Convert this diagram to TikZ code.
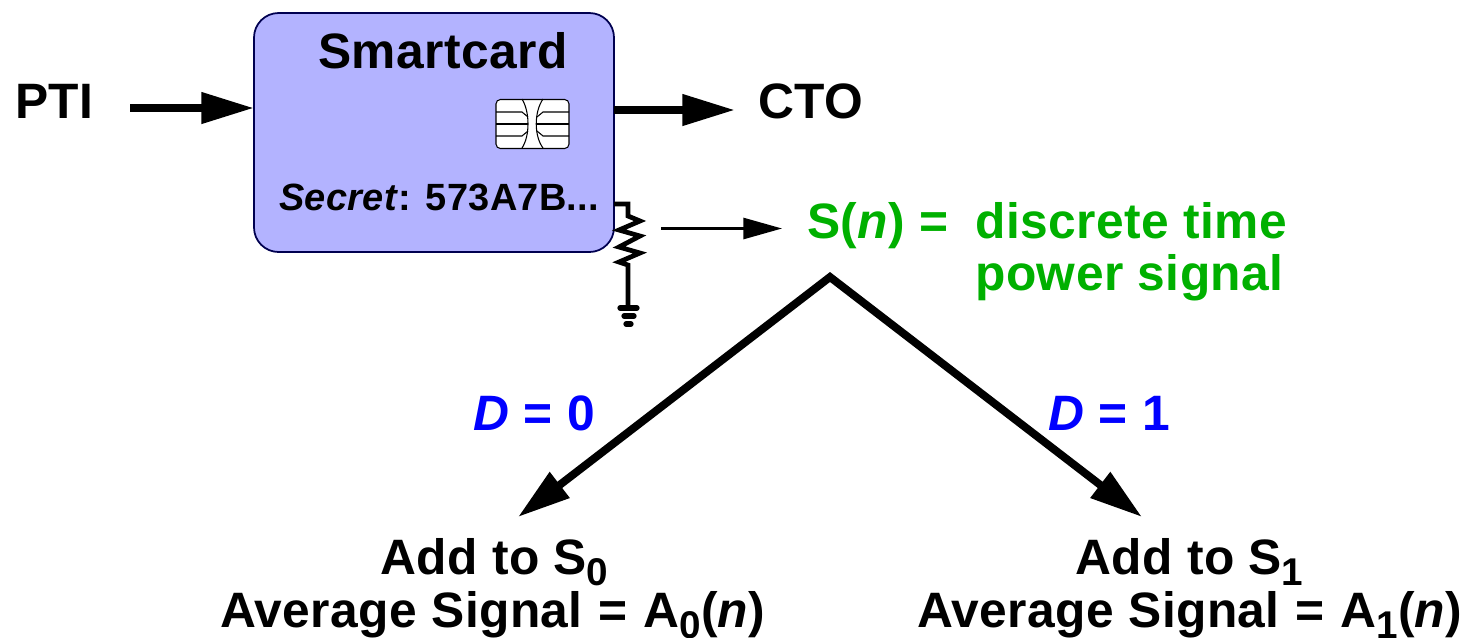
\documentclass[tikz,border=0pt]{standalone}
\usepackage{fontspec}
\setmainfont{Liberation Sans}[LetterSpace=0.85]
\usepackage{tikz}
\usetikzlibrary{arrows.meta}
\definecolor{cardfill}{HTML}{B3B3FF}
\definecolor{cardline}{HTML}{000050}
\definecolor{signalgreen}{HTML}{00B000}
\definecolor{bitblue}{HTML}{0000FF}
\newcommand{\lowidx}[1]{\raisebox{-6.8pt}{\fontsize{22}{22}\selectfont #1}}
\tikzset{
	bigtext/.style={anchor=base west, inner sep=0pt, font=\fontsize{28.3}{34}\bfseries},
	midtext/.style={anchor=base west, inner sep=0pt, font=\fontsize{21.6}{24}\bfseries},
	fatarrow/.style={line width=4.5pt, -{Triangle[length=30pt, width=17pt]}},
	thinarrow/.style={line width=1.4pt, -{Triangle[length=22pt, width=12pt]}},
	branch/.style={line width=4.5pt, {Triangle[length=30pt, width=17.5pt]}-{Triangle[length=30pt, width=17.5pt]}},
	chipline/.style={line width=0.6pt},
	wire/.style={line width=2.7pt},
	earthbar/.style={line width=3pt, line cap=round}
}
\begin{document}
\begin{tikzpicture}[x=0.02cm, y=-0.02cm]
	\useasboundingbox (0,0) rectangle (1467,637);

	% Tarjeta
	\node[draw=cardline, fill=cardfill, line width=1pt, rounded corners=14pt, minimum width=360*0.02cm, minimum height=239*0.02cm, inner sep=0pt] (Card) at (434,132.5) {};
	\node[bigtext] (Title) at (318,68) {Smartcard};
	\node[midtext] (Secret) at (279,210) {\textit{Secret}: 573A7B...};

	% Chip
	\node[draw=black, fill=white, line width=0.6pt, rounded corners=2.5pt, minimum width=73*0.02cm, minimum height=49*0.02cm, inner sep=0pt] (Chip) at (532.5,124) {};
	\draw[chipline] (522,99) .. controls (530,112) and (530,136) .. (522,148);
	\draw[chipline] (543,99) .. controls (534,112) and (534,136) .. (543,148);
	\draw[chipline] (496,112) -- (522,112) -- (528,117);
	\draw[chipline] (496,124) -- (528,124);
	\draw[chipline] (496,136) -- (522,136) -- (528,131);
	\draw[chipline] (569,112) -- (543,112) -- (537,117);
	\draw[chipline] (569,124) -- (536,124);
	\draw[chipline] (569,136) -- (543,136) -- (537,131);

	% Entrada y salida
	\node[bigtext] (PTI) at (15,118) {PTI};
	\node[bigtext] (CTO) at (758,118) {CTO};
	\coordinate (InStart) at (130,108);
	\coordinate (InEnd) at (254,108);
	\coordinate (OutStart) at (614,110);
	\coordinate (OutEnd) at (735,110);
	\draw[fatarrow] (InStart) to (InEnd);
	\draw[fatarrow] (OutStart) to (OutEnd);

	% Resistencia
	\coordinate (Tap) at (614,204);
	\coordinate (Earth) at (628,308);
	\draw[wire] (Tap) -- (628,204) -- (628,216) -- (640,221) -- (619,230) -- (640,236) -- (619,247) -- (640,253) -- (619,262) -- (628,265) -- (Earth);
	\draw[earthbar] (620,308) -- (637,308);
	\draw[earthbar] (624,316) -- (634,316);
	\draw[earthbar] (626,324) -- (631,324);

	% Senal
	\coordinate (ProbeStart) at (661,228.5);
	\coordinate (ProbeEnd) at (782,228.5);
	\draw[thinarrow] (ProbeStart) to (ProbeEnd);
	\node[bigtext, text=signalgreen] (Signal) at (807,238) {S(\textit{n}) =};
	\node[bigtext, text=signalgreen] (SignalA) at (975,238) {discrete time};
	\node[bigtext, text=signalgreen] (SignalB) at (975,290) {power signal};

	% Ramas
	\coordinate (Apex) at (830,277);
	\coordinate (LeftEnd) at (518,517);
	\coordinate (RightEnd) at (1142,517);
	\draw[branch] (LeftEnd) -- (Apex) -- (RightEnd);
	\node[bigtext, text=bitblue] (BitZero) at (473,430) {\textit{D} = 0};
	\node[bigtext, text=bitblue] (BitOne) at (1048,430) {\textit{D} = 1};

	% Etiquetas
	\node[bigtext] (AddZero) at (380,574) {Add to S\lowidx{0}};
	\node[bigtext] (AvgZero) at (220,627) {Average Signal\hspace{1pt} = \hspace{1pt}A\lowidx{0}(\textit{n})};
	\node[bigtext] (AddOne) at (1075,574) {Add to S\lowidx{1}};
	\node[bigtext] (AvgOne) at (917,627) {Average Signal\hspace{1pt} = \hspace{1pt}A\lowidx{1}(\textit{n})};
\end{tikzpicture}
\end{document}
